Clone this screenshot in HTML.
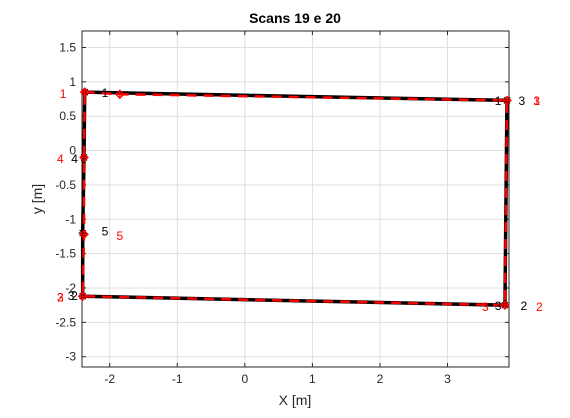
<!DOCTYPE html>
<html><head><meta charset="utf-8"><style>
body{margin:0;background:#fff;font-family:"Liberation Sans",sans-serif}
svg text{font-family:"Liberation Sans",sans-serif}
</style></head><body>
<svg id="chart" width="570" height="413" xmlns="http://www.w3.org/2000/svg">
<rect width="570" height="413" fill="#fff"/>
<g id="grid"></g>
<g id="axes"></g>
<g id="series"></g>
<g id="labels"></g>
<text x="295" y="23" text-anchor="middle" font-size="14" font-weight="bold">Scans 19 e 20</text>
<text x="295" y="405" text-anchor="middle" font-size="14" fill="#262626">X [m]</text>
<text transform="translate(42,199) rotate(-90)" text-anchor="middle" font-size="14" fill="#262626">y [m]</text>
</svg>
<script>
const xTicks=[-2,-1,0,1,2,3];
const yTicks=[1.5,1,0.5,0,-0.5,-1,-1.5,-2,-2.5,-3];
const blackX=[-2.37,3.88,3.85,-2.4,-2.4,-2.38,-2.37];
const blackY=[0.85,0.73,-2.25,-2.12,-1.2,-0.1,0.85];
const redX=[-2.37,-1.85,3.88,3.85,-2.4,-2.38,-2.38,-2.37];
const redY=[0.85,0.82,0.73,-2.25,-2.12,-1.22,-0.1,0.85];
const blackLabels=[["1",-2.12,0.84],["1",3.7,0.72],["3",4.05,0.72],["3",3.7,-2.26],["2",4.08,-2.26],["3",-2.62,-2.12],["2",-2.57,-2.12],["4",-2.57,-0.12],["5",-2.12,-1.18]];
const redLabels=[["1",-2.74,0.82],["3",4.27,0.72],["1",4.27,0.72],["3",3.51,-2.28],["2",4.31,-2.28],["3",-2.78,-2.14],["2",-2.78,-2.14],["4",-2.78,-0.12],["5",-1.9,-1.24]];
const L=82,R=509,T=31,B=367,xmin=-2.41,xmax=3.91,ymin=-3.15,ymax=1.74;
const sx=v=>L+(v-xmin)/(xmax-xmin)*(R-L);
const sy=v=>B-(v-ymin)/(ymax-ymin)*(B-T);
const NS="http://www.w3.org/2000/svg";
function mk(tag,at,p){const e=document.createElementNS(NS,tag);for(const k in at)e.setAttribute(k,at[k]);p.appendChild(e);return e;}
const grid=document.getElementById('grid'),axes=document.getElementById('axes'),ser=document.getElementById('series'),lab=document.getElementById('labels');
xTicks.forEach(t=>{const x=sx(t);
const g=mk('line',{x1:x,x2:x,y1:T,y2:B,stroke:'#dfdfdf'},grid);


mk('line',{x1:x,x2:x,y1:B,y2:B-4,stroke:'#262626'},axes);
mk('line',{x1:x,x2:x,y1:T,y2:T+4,stroke:'#262626'},axes);
const tx=mk('text',{x:x,y:B+16,'text-anchor':'middle','font-size':12,fill:'#262626'},axes);tx.textContent=t;

});
yTicks.forEach(t=>{const y=sy(t);
const g=mk('line',{x1:L,x2:R,y1:y,y2:y,stroke:'#dfdfdf'},grid);


mk('line',{x1:L,x2:L+4,y1:y,y2:y,stroke:'#262626'},axes);
mk('line',{x1:R,x2:R-4,y1:y,y2:y,stroke:'#262626'},axes);
const tx=mk('text',{x:L-6,y:y+4,'text-anchor':'end','font-size':12,fill:'#262626'},axes);tx.textContent=t;

});
const box=mk('rect',{x:L,y:T,width:R-L,height:B-T,fill:'none',stroke:'#262626'},axes);


const pb=blackX.map((v,i)=>sx(v)+','+sy(blackY[i])).join(' ');
const lb=mk('polyline',{points:pb,fill:'none',stroke:'#000','stroke-width':3.5},ser);


const pr=redX.map((v,i)=>sx(v)+','+sy(redY[i])).join(' ');
const lr=mk('polyline',{points:pr,fill:'none',stroke:'#ff0000','stroke-width':2.5,'stroke-dasharray':'10,7'},ser);


blackX.forEach((v,i)=>{const x=sx(v),y=sy(blackY[i]);
const m=mk('path',{d:`M${x-4},${y}H${x+4}M${x},${y-4}V${y+4}M${x-3},${y-3}L${x+3},${y+3}M${x-3},${y+3}L${x+3},${y-3}`,stroke:'#000','stroke-width':1.2},ser);

});
redX.forEach((v,i)=>{const x=sx(v),y=sy(redY[i]);
const m=mk('path',{d:`M${x-4},${y}L${x},${y-4}L${x+4},${y}L${x},${y+4}ZM${x-4},${y}H${x+4}M${x},${y-4}V${y+4}`,stroke:'#ff0000',fill:'none','stroke-width':1.2},ser);

});
blackLabels.forEach(a=>{const t=mk('text',{x:sx(a[1]),y:sy(a[2])+4,'font-size':12,fill:'#000'},lab);t.textContent=a[0];

});
redLabels.forEach(a=>{const t=mk('text',{x:sx(a[1]),y:sy(a[2])+4,'font-size':12,fill:'#ff0000'},lab);t.textContent=a[0];

});
</script>
</body></html>
